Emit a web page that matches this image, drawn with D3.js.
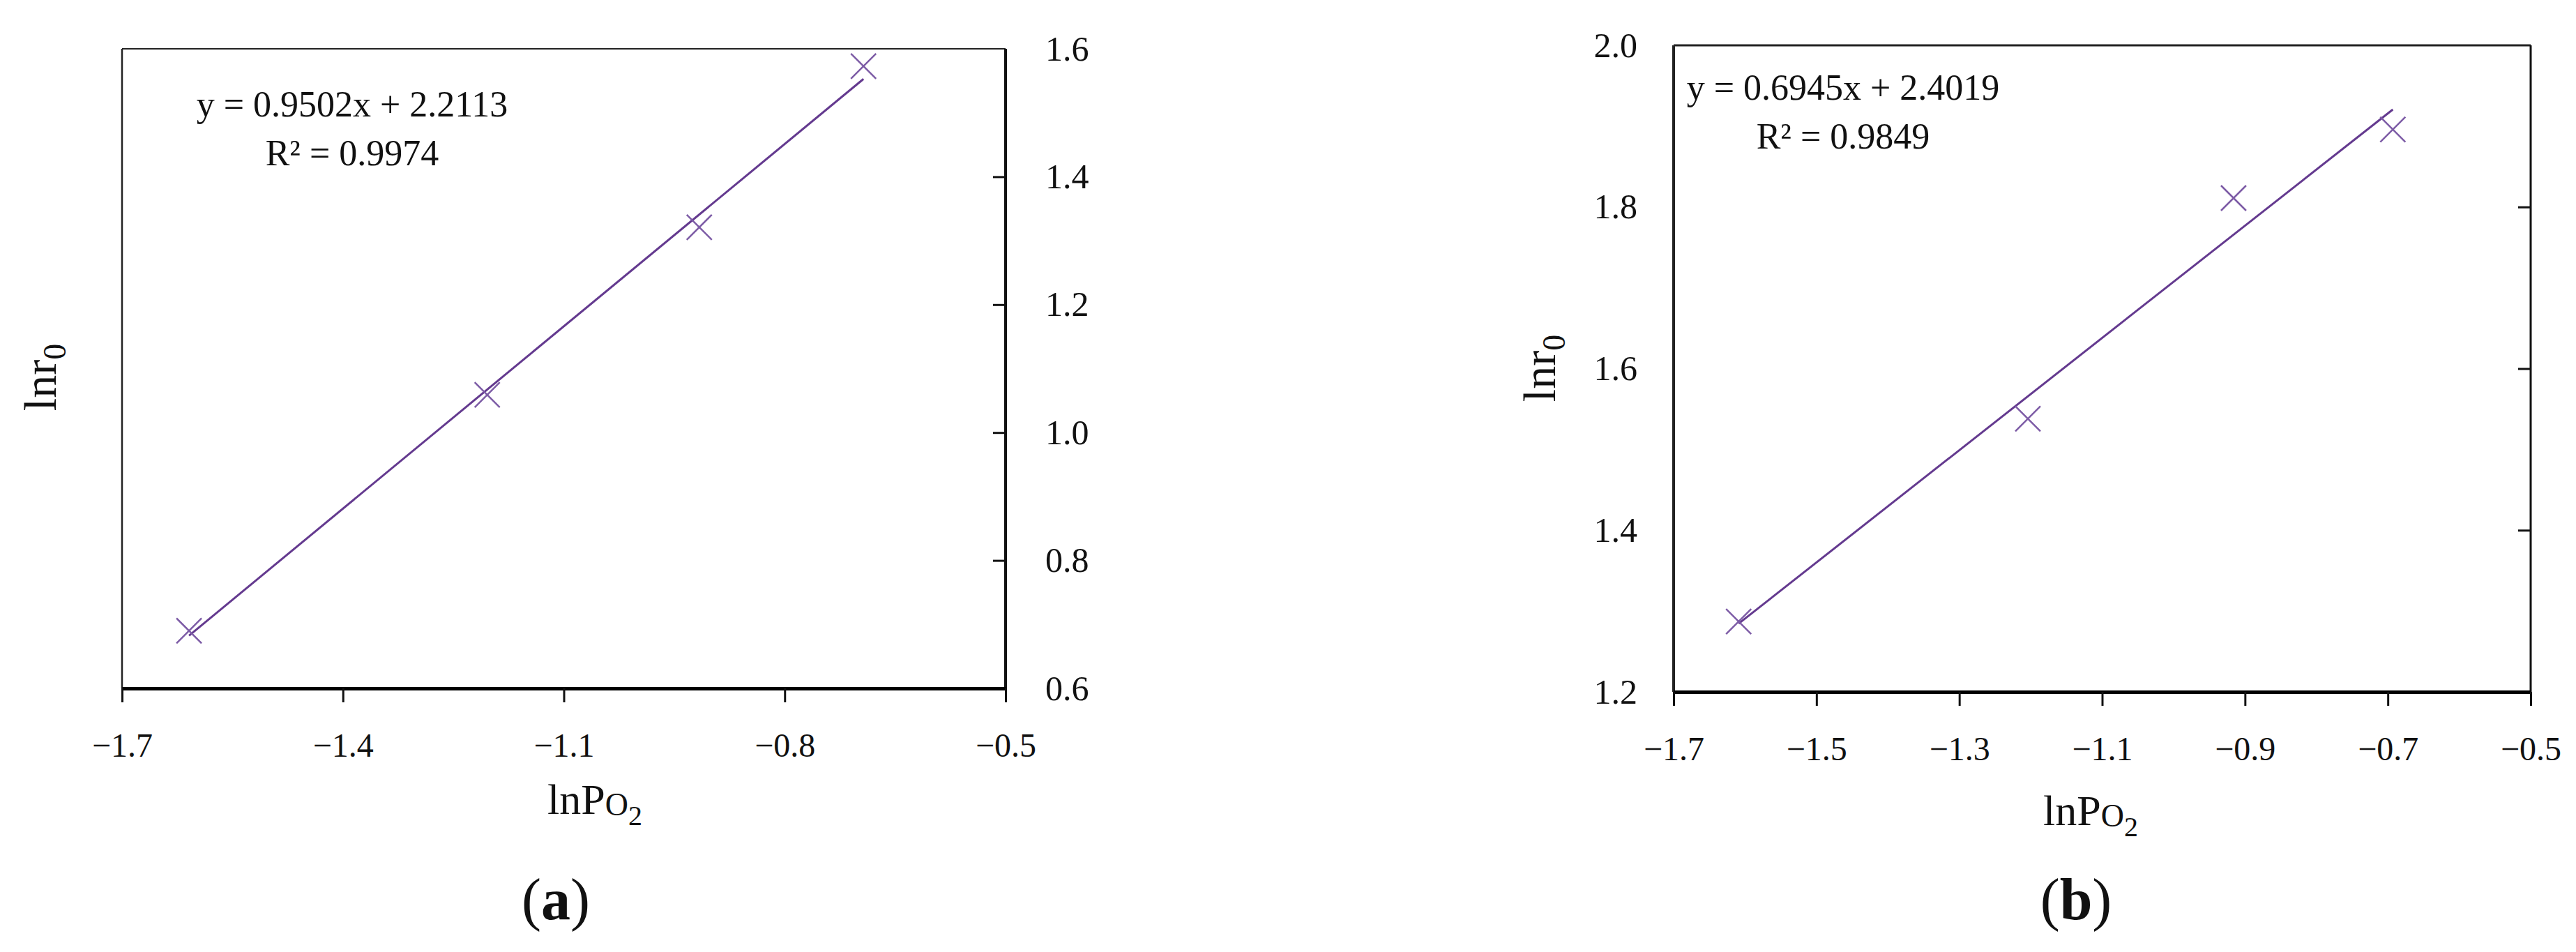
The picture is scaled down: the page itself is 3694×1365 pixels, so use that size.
<!DOCTYPE html>
<html>
<head>
<meta charset="utf-8">
<script src="https://cdn.jsdelivr.net/npm/d3@7"></script>
<style>
  html, body { margin: 0; padding: 0; background: #fff; }
  svg { display: block; }
  text { font-family: "Liberation Serif", "DejaVu Serif", serif; fill: #111; }
</style>
</head>
<body>
<script>
// ---------------- data ----------------
const lnPo2 = [-1.609, -1.204, -0.916, -0.693];
const lnr0A = [0.690, 1.059, 1.321, 1.573];
const lnr0B = [1.287, 1.538, 1.811, 1.896];
const fitA = [0.9502, 2.2113];          // slope, intercept
const fitB = [0.6945, 2.4019];
const eqA = ["y = 0.9502x + 2.2113", "R² = 0.9974"];
const eqB = ["y = 0.6945x + 2.4019", "R² = 0.9849"];
const xTicksA = [-1.7, -1.4, -1.1, -0.8, -0.5];
const xTicksB = [-1.7, -1.5, -1.3, -1.1, -0.9, -0.7, -0.5];
const yTicksA = [0.6, 0.8, 1.0, 1.2, 1.4, 1.6];
const yTicksB = [1.2, 1.4, 1.6, 1.8, 2.0];
const captions = ["a", "b"];

// ---------------- drawing ----------------
const W = 3694, H = 1365;
const svg = d3.select("body").append("svg").attr("width", W).attr("height", H);
const lineColor = "#643a8f";
const markColor = "#7d5ca6";
const fmt = d => (d < 0 ? "\u2212" : "") + Math.abs(d).toFixed(1);

function panel(cfg) {
  const {left, right, top, bottom, xTicks, yTicks, ys, fit, eq, labelSide,
         eqX, eqY1, eqY2, xLabelX, xLabelY, yLabelX, yLabelY, capX, capY, cap} = cfg;
  const x = d3.scaleLinear().domain([xTicks[0], xTicks[xTicks.length - 1]]).range([left, right]);
  const y = d3.scaleLinear().domain([yTicks[0], yTicks[yTicks.length - 1]]).range([bottom, top]);
  const g = svg.append("g");

  // frame lines
  g.append("line").attr("x1", left).attr("x2", right).attr("y1", top).attr("y2", top)
    .attr("stroke", "#222").attr("stroke-width", cfg.topW);
  g.append("line").attr("x1", left).attr("x2", left).attr("y1", top).attr("y2", bottom)
    .attr("stroke", "#222").attr("stroke-width", cfg.leftW);
  g.append("line").attr("x1", right).attr("x2", right).attr("y1", top).attr("y2", bottom)
    .attr("stroke", "#111").attr("stroke-width", cfg.rightW);

  // inward ticks on right edge
  const inner = yTicks.slice(1, -1);
  g.append("g").attr("transform", `translate(${right},0)`)
    .call(d3.axisLeft(y).tickValues(inner).tickSize(18).tickFormat(""))
    .call(a => a.select(".domain").remove())
    .call(a => a.selectAll("line").attr("stroke", "#111").attr("stroke-width", 3));

  // y tick labels
  if (labelSide === "right") {
    g.append("g").attr("transform", `translate(${right},0)`)
      .call(d3.axisRight(y).tickValues(yTicks).tickSize(0).tickPadding(57).tickFormat(d => d.toFixed(1)))
      .call(a => a.select(".domain").remove())
      .call(a => a.selectAll("text").style("font-size", "50px").attr("fill", "#111")
        .style("font-family", "Liberation Serif, serif"));
  } else {
    g.append("g").attr("transform", `translate(${left},0)`)
      .call(d3.axisLeft(y).tickValues(yTicks).tickSize(0).tickPadding(52).tickFormat(d => d.toFixed(1)))
      .call(a => a.select(".domain").remove())
      .call(a => a.selectAll("text").style("font-size", "50px").attr("fill", "#111")
        .style("font-family", "Liberation Serif, serif"));
  }

  // bottom axis
  g.append("g").attr("transform", `translate(0,${bottom})`)
    .call(d3.axisBottom(x).tickValues(xTicks).tickSize(20).tickSizeOuter(0).tickPadding(44).tickFormat(fmt))
    .call(a => a.select(".domain").attr("stroke", "#000").attr("stroke-width", 5))
    .call(a => a.selectAll(".tick line").attr("stroke", "#111").attr("stroke-width", 3))
    .call(a => a.selectAll("text").style("font-size", "48px").attr("fill", "#111")
      .style("font-family", "Liberation Serif, serif"));

  // trend line
  const xs = [lnPo2[0], lnPo2[lnPo2.length - 1]];
  g.append("path")
    .datum(xs.map(v => [v, fit[0] * v + fit[1]]))
    .attr("d", d3.line().x(d => x(d[0])).y(d => y(d[1])))
    .attr("stroke", lineColor).attr("stroke-width", 3).attr("fill", "none");

  // markers
  const s = 18;
  g.selectAll("path.mk").data(lnPo2.map((v, i) => [v, ys[i]])).enter().append("path")
    .attr("class", "mk")
    .attr("d", d => {
      const cx = x(d[0]), cy = y(d[1]);
      return `M${cx - s},${cy - s}L${cx + s},${cy + s}M${cx - s},${cy + s}L${cx + s},${cy - s}`;
    })
    .attr("stroke", markColor).attr("stroke-width", 2.5).attr("fill", "none");

  // equation
  g.append("text").attr("x", eqX).attr("y", eqY1).attr("text-anchor", "middle")
    .style("font-size", "52px").text(eq[0]);
  g.append("text").attr("x", eqX).attr("y", eqY2).attr("text-anchor", "middle")
    .style("font-size", "52px").text(eq[1]);

  // x label lnPO2
  const xl = g.append("text").attr("x", xLabelX).attr("y", xLabelY).style("font-size", "62px");
  xl.append("tspan").text("lnP");
  xl.append("tspan").style("font-size", "46px").attr("dy", 2).text("O");
  xl.append("tspan").style("font-size", "40px").attr("dy", 14).text("2");

  // y label lnr0
  const yl = g.append("text").attr("transform", `translate(${yLabelX},${yLabelY}) rotate(-90)`)
    .attr("text-anchor", "middle").style("font-size", "66px");
  yl.append("tspan").text("lnr");
  yl.append("tspan").style("font-size", "46px").attr("dy", 14).text("0");

  // caption
  const c = g.append("text").attr("x", capX).attr("y", capY).attr("text-anchor", "middle")
    .style("font-size", "84px");
  c.append("tspan").text("(");
  c.append("tspan").style("font-weight", "bold").text(cap);
  c.append("tspan").text(")");
}

panel({left: 175, right: 1442, top: 70, bottom: 987, xTicks: xTicksA, yTicks: yTicksA,
  ys: lnr0A, fit: fitA, eq: eqA, labelSide: "right", topW: 2, leftW: 2.5, rightW: 4,
  eqX: 505, eqY1: 167, eqY2: 237, xLabelX: 785, xLabelY: 1167, yLabelX: 80, yLabelY: 541,
  capX: 797, capY: 1318, cap: captions[0]});

panel({left: 2400, right: 3629, top: 65, bottom: 992, xTicks: xTicksB, yTicks: yTicksB,
  ys: lnr0B, fit: fitB, eq: eqB, labelSide: "left", topW: 3, leftW: 4, rightW: 3,
  eqX: 2643, eqY1: 143, eqY2: 213, xLabelX: 2930, xLabelY: 1183, yLabelX: 2230, yLabelY: 528,
  capX: 2977, capY: 1318, cap: captions[1]});
</script>
</body>
</html>
